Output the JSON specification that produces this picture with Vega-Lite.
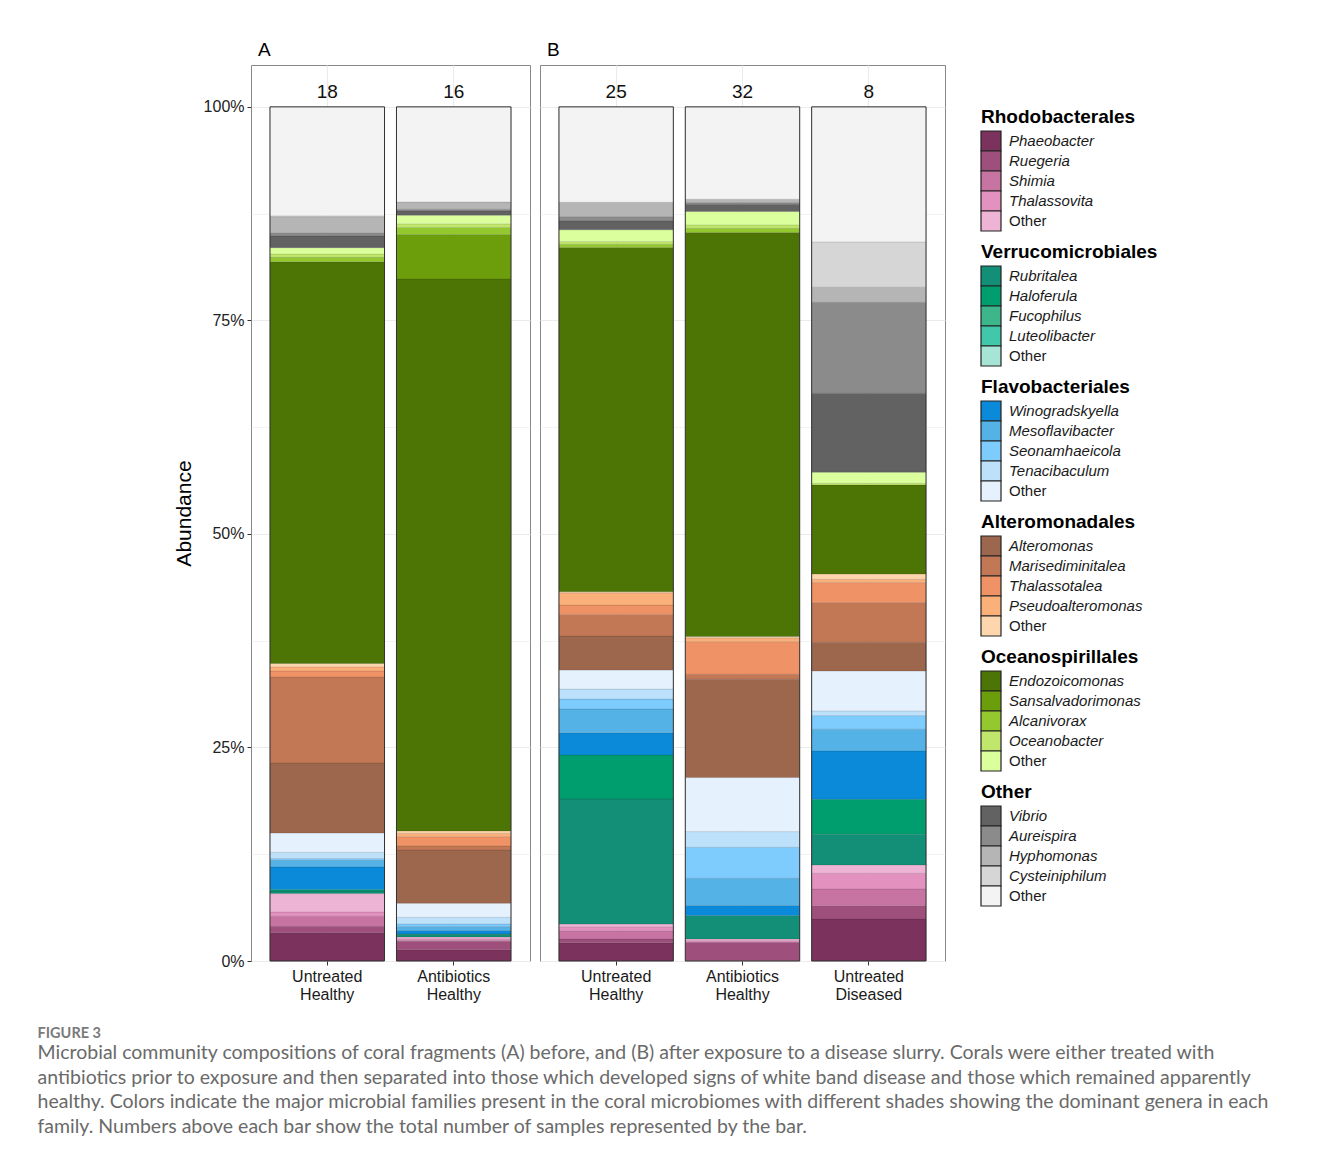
{
  "$schema": "https://vega.github.io/schema/vega-lite/v6.json",
  "background": "white",
  "padding": {"left": 37, "top": 40, "right": 5, "bottom": 5},
  "autosize": {"type": "pad"},
  "config": {
    "font": "Liberation Sans",
    "view": {"stroke": "#888888", "strokeWidth": 1},
    "title": {"font": "Liberation Sans"},
    "axis": {"labelFont": "Liberation Sans", "titleFont": "Liberation Sans"}
  },
  "title": {
    "text": "FIGURE 3",
    "subtitle": [
      "Microbial community compositions of coral fragments (A) before, and (B) after exposure to a disease slurry. Corals were either treated with",
      "antibiotics prior to exposure and then separated into those which developed signs of white band disease and those which remained apparently",
      "healthy. Colors indicate the major microbial families present in the coral microbiomes with different shades showing the dominant genera in each",
      "family. Numbers above each bar show the total number of samples represented by the bar."
    ],
    "orient": "bottom",
    "anchor": "start",
    "frame": "bounds",
    "dx": -135,
    "offset": 24,
    "font": "Lato",
    "fontSize": 14.5,
    "fontWeight": "bold",
    "color": "#7a7a7a",
    "subtitleFont": "Lato",
    "subtitleFontSize": 19.5,
    "subtitleColor": "#6a6a6a",
    "subtitleLineHeight": 24.5,
    "subtitlePadding": 3
  },
  "datasets": {
    "taxa": [
      {"key": "Phaeobacter", "order": "Rhodobacterales", "genus": "Phaeobacter", "oi": 1, "gi": 1},
      {"key": "Ruegeria", "order": "Rhodobacterales", "genus": "Ruegeria", "oi": 1, "gi": 2},
      {"key": "Shimia", "order": "Rhodobacterales", "genus": "Shimia", "oi": 1, "gi": 3},
      {"key": "Thalassovita", "order": "Rhodobacterales", "genus": "Thalassovita", "oi": 1, "gi": 4},
      {"key": "Other Rhodobacterales", "order": "Rhodobacterales", "genus": "Other", "oi": 1, "gi": 5},
      {"key": "Rubritalea", "order": "Verrucomicrobiales", "genus": "Rubritalea", "oi": 2, "gi": 1},
      {"key": "Haloferula", "order": "Verrucomicrobiales", "genus": "Haloferula", "oi": 2, "gi": 2},
      {"key": "Fucophilus", "order": "Verrucomicrobiales", "genus": "Fucophilus", "oi": 2, "gi": 3},
      {"key": "Luteolibacter", "order": "Verrucomicrobiales", "genus": "Luteolibacter", "oi": 2, "gi": 4},
      {"key": "Other Verrucomicrobiales", "order": "Verrucomicrobiales", "genus": "Other", "oi": 2, "gi": 5},
      {"key": "Winogradskyella", "order": "Flavobacteriales", "genus": "Winogradskyella", "oi": 3, "gi": 1},
      {"key": "Mesoflavibacter", "order": "Flavobacteriales", "genus": "Mesoflavibacter", "oi": 3, "gi": 2},
      {"key": "Seonamhaeicola", "order": "Flavobacteriales", "genus": "Seonamhaeicola", "oi": 3, "gi": 3},
      {"key": "Tenacibaculum", "order": "Flavobacteriales", "genus": "Tenacibaculum", "oi": 3, "gi": 4},
      {"key": "Other Flavobacteriales", "order": "Flavobacteriales", "genus": "Other", "oi": 3, "gi": 5},
      {"key": "Alteromonas", "order": "Alteromonadales", "genus": "Alteromonas", "oi": 4, "gi": 1},
      {"key": "Marisediminitalea", "order": "Alteromonadales", "genus": "Marisediminitalea", "oi": 4, "gi": 2},
      {"key": "Thalassotalea", "order": "Alteromonadales", "genus": "Thalassotalea", "oi": 4, "gi": 3},
      {"key": "Pseudoalteromonas", "order": "Alteromonadales", "genus": "Pseudoalteromonas", "oi": 4, "gi": 4},
      {"key": "Other Alteromonadales", "order": "Alteromonadales", "genus": "Other", "oi": 4, "gi": 5},
      {"key": "Endozoicomonas", "order": "Oceanospirillales", "genus": "Endozoicomonas", "oi": 5, "gi": 1},
      {"key": "Sansalvadorimonas", "order": "Oceanospirillales", "genus": "Sansalvadorimonas", "oi": 5, "gi": 2},
      {"key": "Alcanivorax", "order": "Oceanospirillales", "genus": "Alcanivorax", "oi": 5, "gi": 3},
      {"key": "Oceanobacter", "order": "Oceanospirillales", "genus": "Oceanobacter", "oi": 5, "gi": 4},
      {"key": "Other Oceanospirillales", "order": "Oceanospirillales", "genus": "Other", "oi": 5, "gi": 5},
      {"key": "Vibrio", "order": "Other", "genus": "Vibrio", "oi": 6, "gi": 1},
      {"key": "Aureispira", "order": "Other", "genus": "Aureispira", "oi": 6, "gi": 2},
      {"key": "Hyphomonas", "order": "Other", "genus": "Hyphomonas", "oi": 6, "gi": 3},
      {"key": "Cysteiniphilum", "order": "Other", "genus": "Cysteiniphilum", "oi": 6, "gi": 4},
      {"key": "Other Other", "order": "Other", "genus": "Other", "oi": 6, "gi": 5}
    ],
    "bars": [
      {"panel": "A", "group": "Untreated Healthy", "n": 18},
      {"panel": "A", "group": "Antibiotics Healthy", "n": 16},
      {"panel": "B", "group": "Untreated Healthy", "n": 25},
      {"panel": "B", "group": "Antibiotics Healthy", "n": 32},
      {"panel": "B", "group": "Untreated Diseased", "n": 8}
    ],
    "abund": [
      {"panel": "A", "group": "Untreated Healthy", "key": "Phaeobacter", "value": 3.33},
      {"panel": "A", "group": "Untreated Healthy", "key": "Ruegeria", "value": 0.74},
      {"panel": "A", "group": "Untreated Healthy", "key": "Shimia", "value": 1.17},
      {"panel": "A", "group": "Untreated Healthy", "key": "Thalassovita", "value": 0.5},
      {"panel": "A", "group": "Untreated Healthy", "key": "Other Rhodobacterales", "value": 2.15},
      {"panel": "A", "group": "Untreated Healthy", "key": "Rubritalea", "value": 0.3},
      {"panel": "A", "group": "Untreated Healthy", "key": "Haloferula", "value": 0.17},
      {"panel": "A", "group": "Untreated Healthy", "key": "Winogradskyella", "value": 2.65},
      {"panel": "A", "group": "Untreated Healthy", "key": "Mesoflavibacter", "value": 0.78},
      {"panel": "A", "group": "Untreated Healthy", "key": "Seonamhaeicola", "value": 0.2},
      {"panel": "A", "group": "Untreated Healthy", "key": "Tenacibaculum", "value": 0.74},
      {"panel": "A", "group": "Untreated Healthy", "key": "Other Flavobacteriales", "value": 2.26},
      {"panel": "A", "group": "Untreated Healthy", "key": "Alteromonas", "value": 8.2},
      {"panel": "A", "group": "Untreated Healthy", "key": "Marisediminitalea", "value": 10.07},
      {"panel": "A", "group": "Untreated Healthy", "key": "Thalassotalea", "value": 0.7},
      {"panel": "A", "group": "Untreated Healthy", "key": "Pseudoalteromonas", "value": 0.47},
      {"panel": "A", "group": "Untreated Healthy", "key": "Other Alteromonadales", "value": 0.4},
      {"panel": "A", "group": "Untreated Healthy", "key": "Endozoicomonas", "value": 47.03},
      {"panel": "A", "group": "Untreated Healthy", "key": "Alcanivorax", "value": 0.52},
      {"panel": "A", "group": "Untreated Healthy", "key": "Oceanobacter", "value": 0.39},
      {"panel": "A", "group": "Untreated Healthy", "key": "Other Oceanospirillales", "value": 0.74},
      {"panel": "A", "group": "Untreated Healthy", "key": "Vibrio", "value": 1.37},
      {"panel": "A", "group": "Untreated Healthy", "key": "Aureispira", "value": 0.39},
      {"panel": "A", "group": "Untreated Healthy", "key": "Hyphomonas", "value": 1.87},
      {"panel": "A", "group": "Untreated Healthy", "key": "Cysteiniphilum", "value": 0.1},
      {"panel": "A", "group": "Untreated Healthy", "key": "Other Other", "value": 12.76},

      {"panel": "A", "group": "Antibiotics Healthy", "key": "Phaeobacter", "value": 1.33},
      {"panel": "A", "group": "Antibiotics Healthy", "key": "Ruegeria", "value": 0.97},
      {"panel": "A", "group": "Antibiotics Healthy", "key": "Shimia", "value": 0.1},
      {"panel": "A", "group": "Antibiotics Healthy", "key": "Thalassovita", "value": 0.2},
      {"panel": "A", "group": "Antibiotics Healthy", "key": "Other Rhodobacterales", "value": 0.21},
      {"panel": "A", "group": "Antibiotics Healthy", "key": "Rubritalea", "value": 0.31},
      {"panel": "A", "group": "Antibiotics Healthy", "key": "Haloferula", "value": 0.05},
      {"panel": "A", "group": "Antibiotics Healthy", "key": "Winogradskyella", "value": 0.39},
      {"panel": "A", "group": "Antibiotics Healthy", "key": "Mesoflavibacter", "value": 0.47},
      {"panel": "A", "group": "Antibiotics Healthy", "key": "Seonamhaeicola", "value": 0.31},
      {"panel": "A", "group": "Antibiotics Healthy", "key": "Tenacibaculum", "value": 0.78},
      {"panel": "A", "group": "Antibiotics Healthy", "key": "Other Flavobacteriales", "value": 1.64},
      {"panel": "A", "group": "Antibiotics Healthy", "key": "Alteromonas", "value": 6.24},
      {"panel": "A", "group": "Antibiotics Healthy", "key": "Marisediminitalea", "value": 0.47},
      {"panel": "A", "group": "Antibiotics Healthy", "key": "Thalassotalea", "value": 1.09},
      {"panel": "A", "group": "Antibiotics Healthy", "key": "Pseudoalteromonas", "value": 0.4},
      {"panel": "A", "group": "Antibiotics Healthy", "key": "Other Alteromonadales", "value": 0.27},
      {"panel": "A", "group": "Antibiotics Healthy", "key": "Endozoicomonas", "value": 64.63},
      {"panel": "A", "group": "Antibiotics Healthy", "key": "Sansalvadorimonas", "value": 5.19},
      {"panel": "A", "group": "Antibiotics Healthy", "key": "Alcanivorax", "value": 0.82},
      {"panel": "A", "group": "Antibiotics Healthy", "key": "Oceanobacter", "value": 0.43},
      {"panel": "A", "group": "Antibiotics Healthy", "key": "Other Oceanospirillales", "value": 1.02},
      {"panel": "A", "group": "Antibiotics Healthy", "key": "Vibrio", "value": 0.5},
      {"panel": "A", "group": "Antibiotics Healthy", "key": "Aureispira", "value": 0.2},
      {"panel": "A", "group": "Antibiotics Healthy", "key": "Hyphomonas", "value": 0.85},
      {"panel": "A", "group": "Antibiotics Healthy", "key": "Other Other", "value": 11.13},

      {"panel": "B", "group": "Untreated Healthy", "key": "Phaeobacter", "value": 2.14},
      {"panel": "B", "group": "Untreated Healthy", "key": "Ruegeria", "value": 0.43},
      {"panel": "B", "group": "Untreated Healthy", "key": "Shimia", "value": 0.97},
      {"panel": "B", "group": "Untreated Healthy", "key": "Thalassovita", "value": 0.47},
      {"panel": "B", "group": "Untreated Healthy", "key": "Other Rhodobacterales", "value": 0.31},
      {"panel": "B", "group": "Untreated Healthy", "key": "Rubritalea", "value": 14.64},
      {"panel": "B", "group": "Untreated Healthy", "key": "Haloferula", "value": 5.15},
      {"panel": "B", "group": "Untreated Healthy", "key": "Winogradskyella", "value": 2.61},
      {"panel": "B", "group": "Untreated Healthy", "key": "Mesoflavibacter", "value": 2.78},
      {"panel": "B", "group": "Untreated Healthy", "key": "Seonamhaeicola", "value": 1.17},
      {"panel": "B", "group": "Untreated Healthy", "key": "Tenacibaculum", "value": 1.17},
      {"panel": "B", "group": "Untreated Healthy", "key": "Other Flavobacteriales", "value": 2.22},
      {"panel": "B", "group": "Untreated Healthy", "key": "Alteromonas", "value": 3.98},
      {"panel": "B", "group": "Untreated Healthy", "key": "Marisediminitalea", "value": 2.54},
      {"panel": "B", "group": "Untreated Healthy", "key": "Thalassotalea", "value": 1.09},
      {"panel": "B", "group": "Untreated Healthy", "key": "Pseudoalteromonas", "value": 1.44},
      {"panel": "B", "group": "Untreated Healthy", "key": "Other Alteromonadales", "value": 0.12},
      {"panel": "B", "group": "Untreated Healthy", "key": "Endozoicomonas", "value": 40.3},
      {"panel": "B", "group": "Untreated Healthy", "key": "Alcanivorax", "value": 0.39},
      {"panel": "B", "group": "Untreated Healthy", "key": "Oceanobacter", "value": 0.31},
      {"panel": "B", "group": "Untreated Healthy", "key": "Other Oceanospirillales", "value": 1.37},
      {"panel": "B", "group": "Untreated Healthy", "key": "Vibrio", "value": 1.05},
      {"panel": "B", "group": "Untreated Healthy", "key": "Aureispira", "value": 0.5},
      {"panel": "B", "group": "Untreated Healthy", "key": "Hyphomonas", "value": 1.69},
      {"panel": "B", "group": "Untreated Healthy", "key": "Other Other", "value": 11.16},

      {"panel": "B", "group": "Antibiotics Healthy", "key": "Phaeobacter", "value": 0.05},
      {"panel": "B", "group": "Antibiotics Healthy", "key": "Ruegeria", "value": 2.14},
      {"panel": "B", "group": "Antibiotics Healthy", "key": "Thalassovita", "value": 0.2},
      {"panel": "B", "group": "Antibiotics Healthy", "key": "Other Rhodobacterales", "value": 0.2},
      {"panel": "B", "group": "Antibiotics Healthy", "key": "Rubritalea", "value": 2.73},
      {"panel": "B", "group": "Antibiotics Healthy", "key": "Winogradskyella", "value": 1.17},
      {"panel": "B", "group": "Antibiotics Healthy", "key": "Mesoflavibacter", "value": 3.2},
      {"panel": "B", "group": "Antibiotics Healthy", "key": "Seonamhaeicola", "value": 3.63},
      {"panel": "B", "group": "Antibiotics Healthy", "key": "Tenacibaculum", "value": 1.83},
      {"panel": "B", "group": "Antibiotics Healthy", "key": "Other Flavobacteriales", "value": 6.32},
      {"panel": "B", "group": "Antibiotics Healthy", "key": "Alteromonas", "value": 11.51},
      {"panel": "B", "group": "Antibiotics Healthy", "key": "Marisediminitalea", "value": 0.59},
      {"panel": "B", "group": "Antibiotics Healthy", "key": "Thalassotalea", "value": 3.82},
      {"panel": "B", "group": "Antibiotics Healthy", "key": "Pseudoalteromonas", "value": 0.45},
      {"panel": "B", "group": "Antibiotics Healthy", "key": "Other Alteromonadales", "value": 0.14},
      {"panel": "B", "group": "Antibiotics Healthy", "key": "Endozoicomonas", "value": 47.3},
      {"panel": "B", "group": "Antibiotics Healthy", "key": "Alcanivorax", "value": 0.51},
      {"panel": "B", "group": "Antibiotics Healthy", "key": "Oceanobacter", "value": 0.39},
      {"panel": "B", "group": "Antibiotics Healthy", "key": "Other Oceanospirillales", "value": 1.56},
      {"panel": "B", "group": "Antibiotics Healthy", "key": "Vibrio", "value": 0.86},
      {"panel": "B", "group": "Antibiotics Healthy", "key": "Aureispira", "value": 0.2},
      {"panel": "B", "group": "Antibiotics Healthy", "key": "Hyphomonas", "value": 0.39},
      {"panel": "B", "group": "Antibiotics Healthy", "key": "Other Other", "value": 10.81},

      {"panel": "B", "group": "Untreated Diseased", "key": "Phaeobacter", "value": 4.92},
      {"panel": "B", "group": "Untreated Diseased", "key": "Ruegeria", "value": 1.56},
      {"panel": "B", "group": "Untreated Diseased", "key": "Shimia", "value": 1.95},
      {"panel": "B", "group": "Untreated Diseased", "key": "Thalassovita", "value": 1.84},
      {"panel": "B", "group": "Untreated Diseased", "key": "Other Rhodobacterales", "value": 0.98},
      {"panel": "B", "group": "Untreated Diseased", "key": "Rubritalea", "value": 3.59},
      {"panel": "B", "group": "Untreated Diseased", "key": "Haloferula", "value": 4.1},
      {"panel": "B", "group": "Untreated Diseased", "key": "Winogradskyella", "value": 5.66},
      {"panel": "B", "group": "Untreated Diseased", "key": "Mesoflavibacter", "value": 2.54},
      {"panel": "B", "group": "Untreated Diseased", "key": "Seonamhaeicola", "value": 1.59},
      {"panel": "B", "group": "Untreated Diseased", "key": "Tenacibaculum", "value": 0.55},
      {"panel": "B", "group": "Untreated Diseased", "key": "Other Flavobacteriales", "value": 4.68},
      {"panel": "B", "group": "Untreated Diseased", "key": "Alteromonas", "value": 3.36},
      {"panel": "B", "group": "Untreated Diseased", "key": "Marisediminitalea", "value": 4.64},
      {"panel": "B", "group": "Untreated Diseased", "key": "Thalassotalea", "value": 2.34},
      {"panel": "B", "group": "Untreated Diseased", "key": "Pseudoalteromonas", "value": 0.39},
      {"panel": "B", "group": "Untreated Diseased", "key": "Other Alteromonadales", "value": 0.62},
      {"panel": "B", "group": "Untreated Diseased", "key": "Endozoicomonas", "value": 10.42},
      {"panel": "B", "group": "Untreated Diseased", "key": "Oceanobacter", "value": 0.2},
      {"panel": "B", "group": "Untreated Diseased", "key": "Other Oceanospirillales", "value": 1.29},
      {"panel": "B", "group": "Untreated Diseased", "key": "Vibrio", "value": 9.25},
      {"panel": "B", "group": "Untreated Diseased", "key": "Aureispira", "value": 10.66},
      {"panel": "B", "group": "Untreated Diseased", "key": "Hyphomonas", "value": 1.76},
      {"panel": "B", "group": "Untreated Diseased", "key": "Cysteiniphilum", "value": 5.3},
      {"panel": "B", "group": "Untreated Diseased", "key": "Other Other", "value": 15.81}
    ]
  },
  "spacing": 8,
  "resolve": {"scale": {"color": "shared", "x": "independent", "y": "independent"}},
  "hconcat": [
    {
      "width": 279,
      "height": 896,
      "title": {"text": "A", "anchor": "start", "frame": "group", "dx": 7, "offset": 5, "fontSize": 19, "fontWeight": "normal", "color": "#000"},
      "layer": [
        {
          "data": {"name": "abund"},
          "transform": [
            {"filter": "datum.panel === 'A'"},
            {"lookup": "key", "from": {"data": {"name": "taxa"}, "key": "key", "fields": ["oi", "gi"]}},
            {"stack": "value", "groupby": ["group"], "sort": [{"field": "oi", "order": "ascending"}, {"field": "gi", "order": "ascending"}], "as": ["y0", "y1"]}
          ],
          "mark": {"type": "bar", "stroke": "#000000", "strokeOpacity": 0.12, "strokeWidth": 0.8},
          "encoding": {
            "x": {
              "field": "group", "type": "nominal",
              "scale": {"domain": ["Untreated Healthy", "Antibiotics Healthy"], "paddingInner": 0.0945, "paddingOuter": 0.15},
              "axis": {"title": null, "labelExpr": "split(datum.label, ' ')", "labelAngle": 0, "labelFontSize": 16, "labelColor": "#1a1a1a", "labelPadding": 3, "labelLineHeight": 18, "tickColor": "#333333", "tickSize": 4, "domain": false, "grid": true, "gridColor": "#ebebeb", "gridWidth": 1.1, "bandPosition": 0.5}
            },
            "y": {
              "field": "y0", "type": "quantitative",
              "scale": {"domain": [0, 104.9], "nice": false, "zero": true},
              "axis": {
                "title": "Abundance", "titleFontSize": 21, "titleFontWeight": "normal", "titleColor": "#000", "titlePadding": 9,
                "values": [0, 12.5, 25, 37.5, 50, 62.5, 75, 87.5, 100],
                "labelExpr": "datum.value % 25 === 0 ? datum.value + '%' : ''",
                "labelFontSize": 16, "labelColor": "#222222", "labelPadding": 3,
                "tickColor": "#333333", "tickSize": 4,
                "tickOpacity": {"condition": {"test": "datum.value % 25 !== 0", "value": 0}, "value": 1},
                "domain": false, "grid": true, "gridColor": "#ebebeb",
                "gridWidth": {"condition": {"test": "datum.value % 25 !== 0", "value": 0.6}, "value": 1.1}
              }
            },
            "y2": {"field": "y1"},
            "color": {
              "field": "key", "type": "nominal", "legend": null,
              "scale": {
                "domain": ["Phaeobacter", "Ruegeria", "Shimia", "Thalassovita", "Other Rhodobacterales", "Rubritalea", "Haloferula", "Fucophilus", "Luteolibacter", "Other Verrucomicrobiales", "Winogradskyella", "Mesoflavibacter", "Seonamhaeicola", "Tenacibaculum", "Other Flavobacteriales", "Alteromonas", "Marisediminitalea", "Thalassotalea", "Pseudoalteromonas", "Other Alteromonadales", "Endozoicomonas", "Sansalvadorimonas", "Alcanivorax", "Oceanobacter", "Other Oceanospirillales", "Vibrio", "Aureispira", "Hyphomonas", "Cysteiniphilum", "Other Other"],
                "range": ["#7b325c", "#9f4f7b", "#c874a3", "#e391bf", "#eeb4d6", "#138f77", "#009e6f", "#3db68b", "#41c7aa", "#a6e4d5", "#0a8ad8", "#55b2e6", "#7ecbfd", "#bde1fb", "#e5f1fd", "#9c674d", "#c27755", "#ef9265", "#fbb07a", "#fed6ae", "#4d7506", "#6c9e0b", "#93c82f", "#c0e76b", "#dcff9e", "#626262", "#8b8b8b", "#b5b5b5", "#d6d6d6", "#f3f3f3"]
              }
            }
          }
        },
        {
          "data": {"name": "bars"},
          "transform": [{"filter": "datum.panel === 'A'"}],
          "mark": {"type": "bar", "fillOpacity": 0, "stroke": "#333333", "strokeWidth": 1},
          "encoding": {
            "x": {"field": "group", "type": "nominal"},
            "y": {"datum": 0},
            "y2": {"datum": 100}
          }
        },
        {
          "data": {"name": "bars"},
          "transform": [{"filter": "datum.panel === 'A'"}],
          "mark": {"type": "text", "baseline": "bottom", "dy": -5, "fontSize": 19, "color": "#111111"},
          "encoding": {
            "x": {"field": "group", "type": "nominal"},
            "y": {"datum": 100},
            "text": {"field": "n", "type": "nominal"}
          }
        }
      ]
    },
    {
      "width": 405,
      "height": 896,
      "title": {"text": "B", "anchor": "start", "frame": "group", "dx": 7, "offset": 5, "fontSize": 19, "fontWeight": "normal", "color": "#000"},
      "layer": [
        {
          "data": {"name": "abund"},
          "transform": [
            {"filter": "datum.panel === 'B'"},
            {"lookup": "key", "from": {"data": {"name": "taxa"}, "key": "key", "fields": ["oi", "gi"]}},
            {"stack": "value", "groupby": ["group"], "sort": [{"field": "oi", "order": "ascending"}, {"field": "gi", "order": "ascending"}], "as": ["y0", "y1"]}
          ],
          "mark": {"type": "bar", "stroke": "#000000", "strokeOpacity": 0.12, "strokeWidth": 0.8},
          "encoding": {
            "x": {
              "field": "group", "type": "nominal",
              "scale": {"domain": ["Untreated Healthy", "Antibiotics Healthy", "Untreated Diseased"], "paddingInner": 0.0945, "paddingOuter": 0.15},
              "axis": {"title": null, "labelExpr": "split(datum.label, ' ')", "labelAngle": 0, "labelFontSize": 16, "labelColor": "#1a1a1a", "labelPadding": 3, "labelLineHeight": 18, "tickColor": "#333333", "tickSize": 4, "domain": false, "grid": true, "gridColor": "#ebebeb", "gridWidth": 1.1, "bandPosition": 0.5}
            },
            "y": {
              "field": "y0", "type": "quantitative",
              "scale": {"domain": [0, 104.9], "nice": false, "zero": true},
              "axis": {
                "title": null, "labels": false, "ticks": false, "domain": false,
                "values": [0, 12.5, 25, 37.5, 50, 62.5, 75, 87.5, 100],
                "grid": true, "gridColor": "#ebebeb",
                "gridWidth": {"condition": {"test": "datum.value % 25 !== 0", "value": 0.6}, "value": 1.1}
              }
            },
            "y2": {"field": "y1"},
            "color": {
              "field": "key", "type": "nominal", "legend": null,
              "scale": {
                "domain": ["Phaeobacter", "Ruegeria", "Shimia", "Thalassovita", "Other Rhodobacterales", "Rubritalea", "Haloferula", "Fucophilus", "Luteolibacter", "Other Verrucomicrobiales", "Winogradskyella", "Mesoflavibacter", "Seonamhaeicola", "Tenacibaculum", "Other Flavobacteriales", "Alteromonas", "Marisediminitalea", "Thalassotalea", "Pseudoalteromonas", "Other Alteromonadales", "Endozoicomonas", "Sansalvadorimonas", "Alcanivorax", "Oceanobacter", "Other Oceanospirillales", "Vibrio", "Aureispira", "Hyphomonas", "Cysteiniphilum", "Other Other"],
                "range": ["#7b325c", "#9f4f7b", "#c874a3", "#e391bf", "#eeb4d6", "#138f77", "#009e6f", "#3db68b", "#41c7aa", "#a6e4d5", "#0a8ad8", "#55b2e6", "#7ecbfd", "#bde1fb", "#e5f1fd", "#9c674d", "#c27755", "#ef9265", "#fbb07a", "#fed6ae", "#4d7506", "#6c9e0b", "#93c82f", "#c0e76b", "#dcff9e", "#626262", "#8b8b8b", "#b5b5b5", "#d6d6d6", "#f3f3f3"]
              }
            }
          }
        },
        {
          "data": {"name": "bars"},
          "transform": [{"filter": "datum.panel === 'B'"}],
          "mark": {"type": "bar", "fillOpacity": 0, "stroke": "#333333", "strokeWidth": 1},
          "encoding": {
            "x": {"field": "group", "type": "nominal"},
            "y": {"datum": 0},
            "y2": {"datum": 100}
          }
        },
        {
          "data": {"name": "bars"},
          "transform": [{"filter": "datum.panel === 'B'"}],
          "mark": {"type": "text", "baseline": "bottom", "dy": -5, "fontSize": 19, "color": "#111111"},
          "encoding": {
            "x": {"field": "group", "type": "nominal"},
            "y": {"datum": 100},
            "text": {"field": "n", "type": "nominal"}
          }
        }
      ]
    },
    {
      "width": 200,
      "height": 896,
      "view": {"stroke": null},
      "data": {"name": "taxa"},
      "layer": [
        {
          "mark": {"type": "rect", "stroke": "#222222", "strokeWidth": 1.2},
          "encoding": {
            "y": {"field": "order", "type": "nominal", "axis": null,
                  "scale": {"domain": ["Rhodobacterales", "Verrucomicrobiales", "Flavobacteriales", "Alteromonadales", "Oceanospirillales", "Other"], "range": [42, 852], "paddingInner": 0, "paddingOuter": 0}},
            "yOffset": {"field": "gi", "type": "nominal", "scale": {"domain": [1, 2, 3, 4, 5], "range": [24, 124], "paddingInner": 0, "paddingOuter": 0}},
            "x": {"datum": 1.35, "type": "quantitative", "scale": {"domain": [0, 10], "nice": false, "zero": true}, "axis": null},
            "x2": {"datum": 2.35},
            "color": {
              "field": "key", "type": "nominal", "legend": null,
              "scale": {
                "domain": ["Phaeobacter", "Ruegeria", "Shimia", "Thalassovita", "Other Rhodobacterales", "Rubritalea", "Haloferula", "Fucophilus", "Luteolibacter", "Other Verrucomicrobiales", "Winogradskyella", "Mesoflavibacter", "Seonamhaeicola", "Tenacibaculum", "Other Flavobacteriales", "Alteromonas", "Marisediminitalea", "Thalassotalea", "Pseudoalteromonas", "Other Alteromonadales", "Endozoicomonas", "Sansalvadorimonas", "Alcanivorax", "Oceanobacter", "Other Oceanospirillales", "Vibrio", "Aureispira", "Hyphomonas", "Cysteiniphilum", "Other Other"],
                "range": ["#7b325c", "#9f4f7b", "#c874a3", "#e391bf", "#eeb4d6", "#138f77", "#009e6f", "#3db68b", "#41c7aa", "#a6e4d5", "#0a8ad8", "#55b2e6", "#7ecbfd", "#bde1fb", "#e5f1fd", "#9c674d", "#c27755", "#ef9265", "#fbb07a", "#fed6ae", "#4d7506", "#6c9e0b", "#93c82f", "#c0e76b", "#dcff9e", "#626262", "#8b8b8b", "#b5b5b5", "#d6d6d6", "#f3f3f3"]
              }
            }
          }
        },
        {
          "transform": [{"filter": "datum.gi === 1"}],
          "mark": {"type": "text", "align": "left", "baseline": "middle", "dy": 10, "fontSize": 19, "fontWeight": "bold", "color": "#000000"},
          "encoding": {
            "y": {"field": "order", "type": "nominal", "bandPosition": 0},
            "x": {"datum": 1.35, "type": "quantitative"},
            "text": {"field": "order", "type": "nominal"}
          }
        },
        {
          "transform": [{"filter": "datum.genus !== 'Other'"}],
          "mark": {"type": "text", "align": "left", "baseline": "middle", "fontSize": 15, "fontStyle": "italic", "color": "#1a1a1a"},
          "encoding": {
            "y": {"field": "order", "type": "nominal"},
            "yOffset": {"field": "gi", "type": "nominal"},
            "x": {"datum": 2.75, "type": "quantitative"},
            "text": {"field": "genus", "type": "nominal"}
          }
        },
        {
          "transform": [{"filter": "datum.genus === 'Other'"}],
          "mark": {"type": "text", "align": "left", "baseline": "middle", "fontSize": 15, "color": "#1a1a1a"},
          "encoding": {
            "y": {"field": "order", "type": "nominal"},
            "yOffset": {"field": "gi", "type": "nominal"},
            "x": {"datum": 2.75, "type": "quantitative"},
            "text": {"field": "genus", "type": "nominal"}
          }
        }
      ]
    }
  ]
}
